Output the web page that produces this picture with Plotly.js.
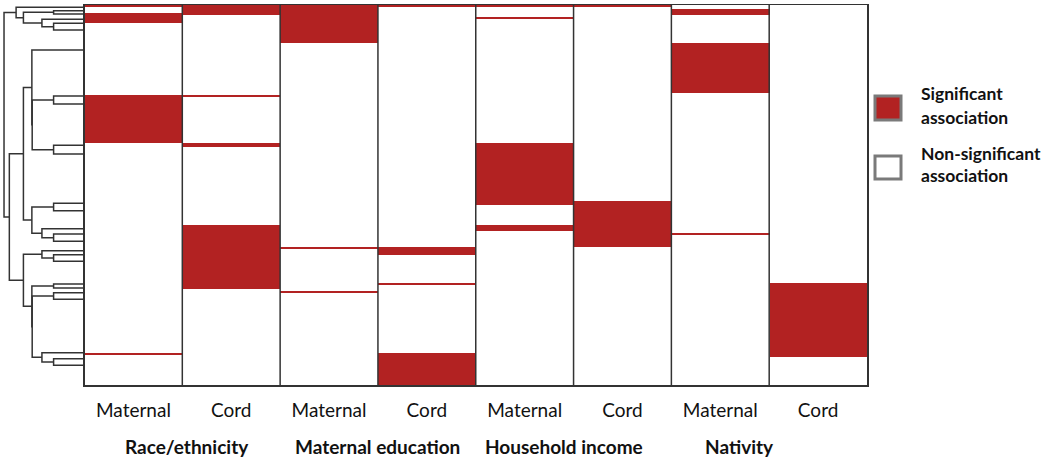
<!DOCTYPE html>
<html>
<head>
<meta charset="utf-8">
<script src="https://cdn.plot.ly/plotly-3.0.1.min.js"></script>
<style>
  html, body { margin: 0; padding: 0; background: #ffffff; }
  #chart { width: 1050px; height: 460px; }
</style>
</head>
<body>
<div id="chart"></div>
<script>
// ---------------- DATA ----------------
const columnLabels = ['Maternal', 'Cord', 'Maternal', 'Cord', 'Maternal', 'Cord', 'Maternal', 'Cord'];
const groupLabels = ['Race/ethnicity', 'Maternal education', 'Household income', 'Nativity'];
const nRows = 190;

// significant row intervals [start, end) per column (rows ordered top -> bottom)
const raceMaternal     = [[0, 1], [4, 9], [45, 69], [174, 175]];
const raceCord         = [[0, 5], [45, 46], [69, 71], [110, 142]];
const eduMaternal      = [[0, 19], [121, 122], [143, 144]];
const eduCord          = [[0, 1], [121, 125], [139, 140], [174, 190]];
const incomeMaternal   = [[0, 1], [6, 7], [69, 100], [110, 113]];
const incomeCord       = [[0, 1], [98, 121]];
const nativityMaternal = [[2, 5], [19, 44], [114, 115]];
const nativityCord     = [[139, 176]];

// dendrogram: leaf positions (row units) and merges (R hclust convention)
const leafPos = [1.15, 2.85, 4.5, 7.15, 9.15, 12.5, 22.5, 45.5, 49.5, 70.15, 74.5,
                 99.15, 102.85, 111.85, 114.5, 118.15, 122.85, 124.85, 128.15,
                 139.5, 141.5, 143.85, 147.15, 173.85, 176.85, 180.15];
const mergeLeft   = [-2, -5, -4, 1, -1, -8, -10, 6, -7, -12, -15, -14, 10, 9, -18, -17, -20, -22, -25, -24, 18, 17, 16, 14, 5];
const mergeRight  = [-3, -6, 2, 3, 4, -9, -11, 7, 8, -13, -16, 11, 12, 13, -19, 15, -21, -23, -26, 19, 20, 21, 22, 23, 24];
const mergeHeight = [3.84, 3.84, 5.29, 7.59, 8.5, 3.84, 3.84, 6.5, 6.54, 3.84, 3.84, 5.29, 6.54, 7.59,
                     3.84, 5.29, 3.84, 3.84, 3.84, 5.29, 6.5, 6.54, 7.59, 9.34, 10];

// ---------------- BUILD ----------------
const columnIntervals = [raceMaternal, raceCord, eduMaternal, eduCord,
                         incomeMaternal, incomeCord, nativityMaternal, nativityCord];
const colIdx = columnLabels.map((_, i) => i);
const rowCenters = [];
const z = [];
for (let r = 0; r < nRows; r++) {
  rowCenters.push(r + 0.5);
  z.push(columnIntervals.map(iv => iv.some(([s, e]) => r >= s && r < e) ? 1 : 0));
}

// dendrogram segments
const nodeY = [];
const dx = [], dy = [];
function info(ref) {
  if (ref < 0) return { y: leafPos[-ref - 1], h: 0 };
  return { y: nodeY[ref - 1], h: mergeHeight[ref - 1] };
}
for (let k = 0; k < mergeHeight.length; k++) {
  const a = info(mergeLeft[k]), b = info(mergeRight[k]), h = mergeHeight[k];
  dx.push(a.h, h, h, b.h, null);
  dy.push(a.y, a.y, b.y, b.y, null);
  nodeY.push((a.y + b.y) / 2);
}

const RED = '#B22222';
const LINE = '#333333';

const traces = [
  {
    type: 'heatmap',
    x: colIdx, y: rowCenters, z: z,
    zmin: 0, zmax: 1,
    colorscale: [[0, '#ffffff'], [1, RED]],
    showscale: false, hoverinfo: 'skip', zsmooth: false,
    xaxis: 'x', yaxis: 'y'
  },
  {
    type: 'scatter', mode: 'lines',
    x: dx, y: dy,
    line: { color: LINE, width: 1.5 },
    hoverinfo: 'skip', showlegend: false, cliponaxis: false,
    xaxis: 'x2', yaxis: 'y'
  }
];

const X0 = 84.5 / 1050, X1 = 867 / 1050;
const shapes = [];
for (let i = 0; i < colIdx.length - 1; i++) {
  shapes.push({ type: 'line', xref: 'x', yref: 'paper', x0: i + 0.5, x1: i + 0.5, y0: 0, y1: 1,
                line: { color: LINE, width: 1.5 }, layer: 'above' });
}
// legend squares
const py = p => (385 - p) / 380;
shapes.push({ type: 'rect', xref: 'paper', yref: 'paper', x0: 875 / 1050, x1: 901 / 1050, y0: py(120), y1: py(96),
              fillcolor: RED, line: { color: '#7a7a7a', width: 3 } });
shapes.push({ type: 'rect', xref: 'paper', yref: 'paper', x0: 875 / 1050, x1: 901 / 1050, y0: py(179), y1: py(156),
              fillcolor: '#ffffff', line: { color: '#7a7a7a', width: 3 } });

const FONT = 'Lato, "Open Sans", sans-serif';
const groupX = [0.55, 2.5, 4.4, 6.2];
const annotations = groupLabels.map((g, i) => ({
  text: '<b>' + g + '</b>', x: groupX[i], xref: 'x', y: py(446), yref: 'paper',
  xanchor: 'center', yanchor: 'middle', showarrow: false,
  font: { family: FONT, size: 19, color: '#111' }
}));
const legendLines = [['Significant', 94], ['association', 117], ['Non-significant', 153], ['association', 176]];
legendLines.forEach(([t, y]) => annotations.push({
  text: '<b>' + t + '</b>', x: 919 / 1050, xref: 'paper', y: py(y), yref: 'paper',
  xanchor: 'left', yanchor: 'middle', showarrow: false, align: 'left',
  font: { family: FONT, size: 17.5, color: '#111' }
}));

const layout = {
  width: 1050, height: 460,
  margin: { l: 0, r: 0, t: 5, b: 75, pad: 0 },
  paper_bgcolor: '#ffffff', plot_bgcolor: '#ffffff',
  font: { family: FONT, color: '#111' },
  showlegend: false,
  xaxis: {
    domain: [X0, X1], range: [-0.5, 7.5], anchor: 'y',
    tickvals: colIdx, ticktext: columnLabels, ticks: '',
    tickfont: { family: FONT, size: 19, color: '#111' },
    ticklabelstandoff: 8,
    showline: true, mirror: true, linecolor: LINE, linewidth: 1.5,
    showgrid: false, zeroline: false, fixedrange: true
  },
  yaxis: {
    range: [nRows, 0], domain: [0, 1], anchor: 'x',
    showticklabels: false, ticks: '',
    showline: true, mirror: true, linecolor: LINE, linewidth: 1.5,
    showgrid: false, zeroline: false, fixedrange: true
  },
  xaxis2: {
    domain: [0, X0], range: [10.5, 0], anchor: 'y',
    visible: false, showgrid: false, zeroline: false, fixedrange: true
  },
  shapes: shapes,
  annotations: annotations
};

Plotly.newPlot('chart', traces, layout, { displayModeBar: false, staticPlot: true });
</script>
</body>
</html>
